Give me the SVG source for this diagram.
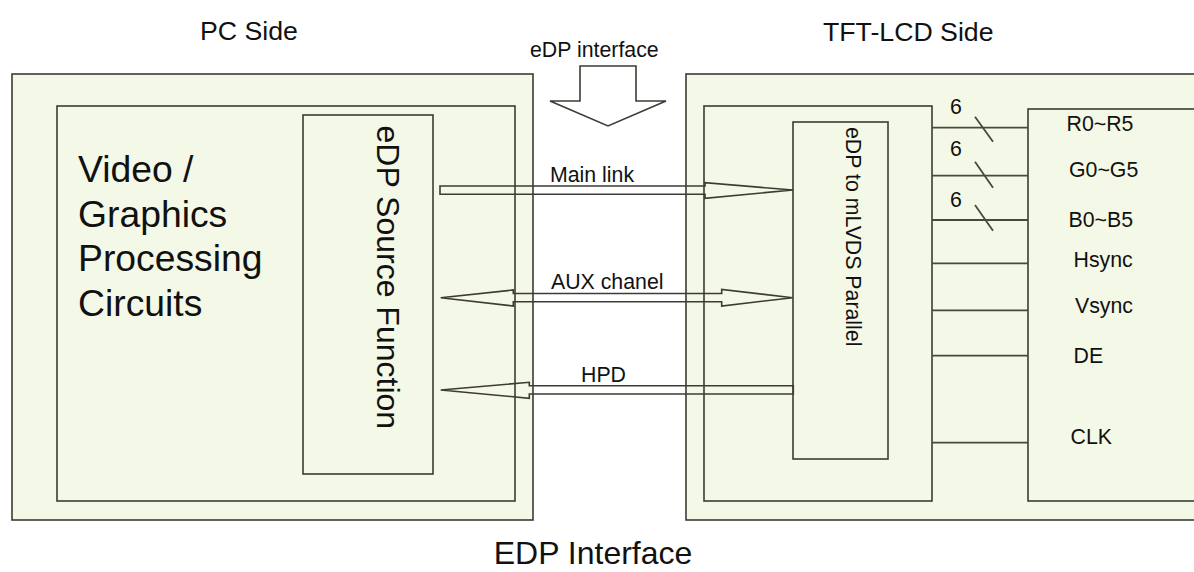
<svg xmlns="http://www.w3.org/2000/svg" width="1194" height="572" viewBox="0 0 1194 572">
<style>
.box{fill:#F4F8E6;stroke:#3c3c34;stroke-width:1.6}
.arr{fill:none;stroke:#3c3c34;stroke-width:1.6;stroke-linejoin:miter}
.sig{stroke:#454a3a;stroke-width:1.8;fill:none}
text{font-family:"Liberation Sans",Arial,sans-serif;fill:#111}
.lbl{font-size:21.3px}
.side{font-size:26.7px}
.big{font-size:37.3px}
</style>
<rect width="1194" height="572" fill="#ffffff"/>
<g id="pc-side">
<rect class="box" x="12" y="74" width="521" height="446"/>
<text class="side" x="200" y="40">PC Side</text>
</g>
<g id="video-graphics">
<rect class="box" x="57" y="106" width="458" height="395"/>
<text class="big" x="78"><tspan x="78" y="182">Video /</tspan><tspan x="78" y="227">Graphics</tspan><tspan x="78" y="271">Processing</tspan><tspan x="78" y="316">Circuits</tspan></text>
</g>
<g id="edp-source">
<rect class="box" x="303" y="115" width="130" height="359"/>
<text style="font-size:32px" transform="translate(377,125.5) rotate(90)">eDP Source Function</text>
</g>
<g id="tft-lcd-side">
<rect class="box" x="686" y="74" width="520" height="446"/>
<text class="side" x="823" y="41">TFT-LCD Side</text>
</g>
<g id="lcd-inner">
<rect class="box" x="704" y="106" width="228" height="395"/>
</g>
<g id="edp-to-mlvds">
<rect class="box" x="793" y="122" width="95" height="337"/>
<text class="lbl" transform="translate(846,127) rotate(90)">eDP to mLVDS Parallel</text>
</g>
<g id="panel-signals">
<rect class="box" x="1028" y="109" width="180" height="392"/>
<text class="lbl" x="1066.5" y="130.7">R0~R5</text>
<text class="lbl" x="1069" y="177.3">G0~G5</text>
<text class="lbl" x="1068.5" y="226.7">B0~B5</text>
<text class="lbl" x="1073.5" y="267">Hsync</text>
<text class="lbl" x="1075" y="312.7">Vsync</text>
<text class="lbl" x="1073.5" y="363.3">DE</text>
<text class="lbl" x="1070.5" y="444">CLK</text>
</g>
<g id="edp-interface">
<polygon points="580,66 636,66 636,101 666,101 608,126 550,101 580,101" fill="#ffffff" stroke="#3c3c34" stroke-width="1.6"/>
<text class="lbl" x="530" y="57">eDP interface</text>
</g>
<g id="connectors">
<polygon class="arr" points="440,186 705,186 705,182.7 793,190 705,198.3 705,194.3 440,194.3"/>
<polygon class="arr" points="440.7,297.7 513.3,290 513.3,293.5 721.7,293.5 721.7,289.5 792.7,297.7 721.7,306 721.7,301.7 513.3,301.7 513.3,306"/>
<polygon class="arr" points="440.7,390 529.3,382.3 529.3,385.8 793.3,385.8 793.3,394 529.3,394 529.3,398.3"/>
<text class="lbl" x="550" y="181.7">Main link</text>
<text class="lbl" x="551" y="289">AUX chanel</text>
<text class="lbl" x="581" y="381.7">HPD</text>
<line class="sig" x1="932" y1="127.7" x2="1028" y2="127.7"/>
<line class="sig" x1="932" y1="175.7" x2="1028" y2="175.7"/>
<line class="sig" x1="932" y1="220" x2="1028" y2="220"/>
<line class="sig" x1="932" y1="263.3" x2="1028" y2="263.3"/>
<line class="sig" x1="932" y1="310.3" x2="1028" y2="310.3"/>
<line class="sig" x1="932" y1="355.7" x2="1028" y2="355.7"/>
<line class="sig" x1="932" y1="442.7" x2="1028" y2="442.7"/>
<line class="sig" x1="975" y1="116.7" x2="993" y2="141.7"/>
<line class="sig" x1="975" y1="161.7" x2="993" y2="187.7"/>
<line class="sig" x1="975" y1="205" x2="993" y2="230.7"/>
<text class="lbl" x="950" y="114">6</text>
<text class="lbl" x="950" y="155.7">6</text>
<text class="lbl" x="950" y="207.3">6</text>
</g>
<text style="font-size:32px" x="593" y="564" text-anchor="middle">EDP Interface</text>
</svg>
